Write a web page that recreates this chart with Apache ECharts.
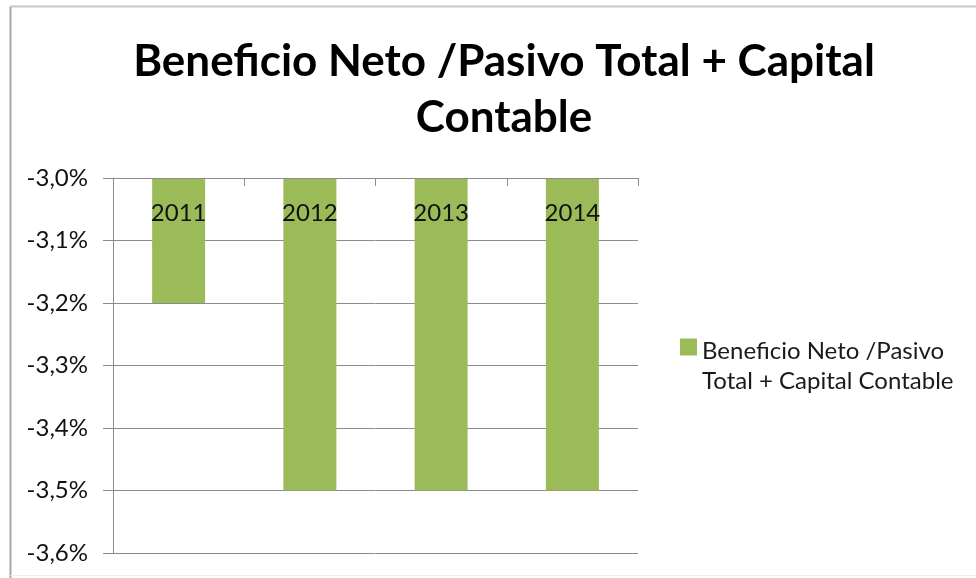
<!DOCTYPE html>
<html>
<head>
<meta charset="utf-8">
<title>Beneficio Neto /Pasivo Total + Capital Contable</title>
<script src="https://cdn.jsdelivr.net/npm/echarts@6/dist/echarts.min.js"></script>
<style>
  html, body { margin: 0; padding: 0; background: #ffffff; }
  #chart { width: 976px; height: 578px; }
</style>
</head>
<body>
<div id="chart"></div>
<script>
// Data
const years = ['2011', '2012', '2013', '2014'];
const ratioValues = [-3.2, -3.5, -3.5, -3.5];   // percent
const seriesName = 'Beneficio Neto /Pasivo Total + Capital Contable';
const titleText = 'Beneficio Neto /Pasivo Total + Capital\nContable';
const axisMin = -3.6;
const axisMax = -3.0;
const axisStep = 0.1;

const FONT = 'Lato, "Open Sans", sans-serif';
const GRID_GRAY = '#8c8c8c';
const BAR_GREEN = '#9bbb59';

const chart = echarts.init(document.getElementById('chart'), null, { renderer: 'canvas' });

chart.setOption({
  backgroundColor: '#ffffff',
  animation: false,
  textStyle: { fontFamily: FONT },
  title: {
    text: titleText,
    left: 499,
    top: 29,
    textAlign: 'center',
    textStyle: {
      fontFamily: FONT,
      fontWeight: 'bold',
      fontSize: 44,
      lineHeight: 56,
      color: '#000000'
    }
  },
  legend: {
    show: true,
    orient: 'vertical',
    left: 680,
    top: 336,
    padding: 0,
    itemWidth: 17,
    itemHeight: 55,
    itemGap: 0,
    // square marker sits beside the first text line
    icon: 'path://M0,0h17v17h-17z M0,54.99h0.01v0.01h-0.01z',
    formatter: function () { return 'Beneficio Neto /Pasivo\nTotal + Capital Contable'; },
    textStyle: {
      fontFamily: FONT,
      fontSize: 24,
      lineHeight: 30,
      color: '#1a1a1a'
    }
  },
  graphic: [
    // chart frame
    { type: 'line', shape: { x1: 10.5, y1: 6.5, x2: 976, y2: 6.5 }, style: { stroke: '#c8c8c8', lineWidth: 2 }, silent: true },
    { type: 'line', shape: { x1: 10.5, y1: 6.5, x2: 10.5, y2: 578 }, style: { stroke: '#a6a6a6', lineWidth: 2 }, silent: true },
    { type: 'line', shape: { x1: 10.5, y1: 575.5, x2: 976, y2: 575.5 }, style: { stroke: '#eeeeee', lineWidth: 1 }, silent: true }
  ],
  grid: {
    left: 113,
    right: 338,
    top: 178,
    bottom: 25,
    containLabel: false
  },
  xAxis: {
    type: 'category',
    data: years,
    position: 'top',
    z: 5,
    axisLine: { show: true, lineStyle: { color: GRID_GRAY, width: 1 } },
    axisTick: { show: true, inside: true, length: 8, lineStyle: { color: GRID_GRAY } },
    axisLabel: {
      inside: true,
      margin: 23,
      fontFamily: FONT,
      fontSize: 24,
      color: '#111111'
    },
    splitLine: { show: false }
  },
  yAxis: {
    type: 'value',
    min: axisMin,
    max: axisMax,
    interval: axisStep,
    axisLine: { show: true, lineStyle: { color: GRID_GRAY, width: 1 } },
    axisTick: { show: true, length: 10, lineStyle: { color: GRID_GRAY } },
    axisLabel: {
      margin: 25,
      fontFamily: FONT,
      fontSize: 24,
      color: '#111111',
      formatter: function (v) { return v.toFixed(1).replace('.', ',') + '%'; }
    },
    splitLine: { show: true, lineStyle: { color: GRID_GRAY, width: 1 } }
  },
  series: [{
    name: seriesName,
    type: 'bar',
    data: ratioValues,
    barWidth: 53,
    clip: true,
    itemStyle: { color: BAR_GREEN }
  }]
});
</script>
</body>
</html>
